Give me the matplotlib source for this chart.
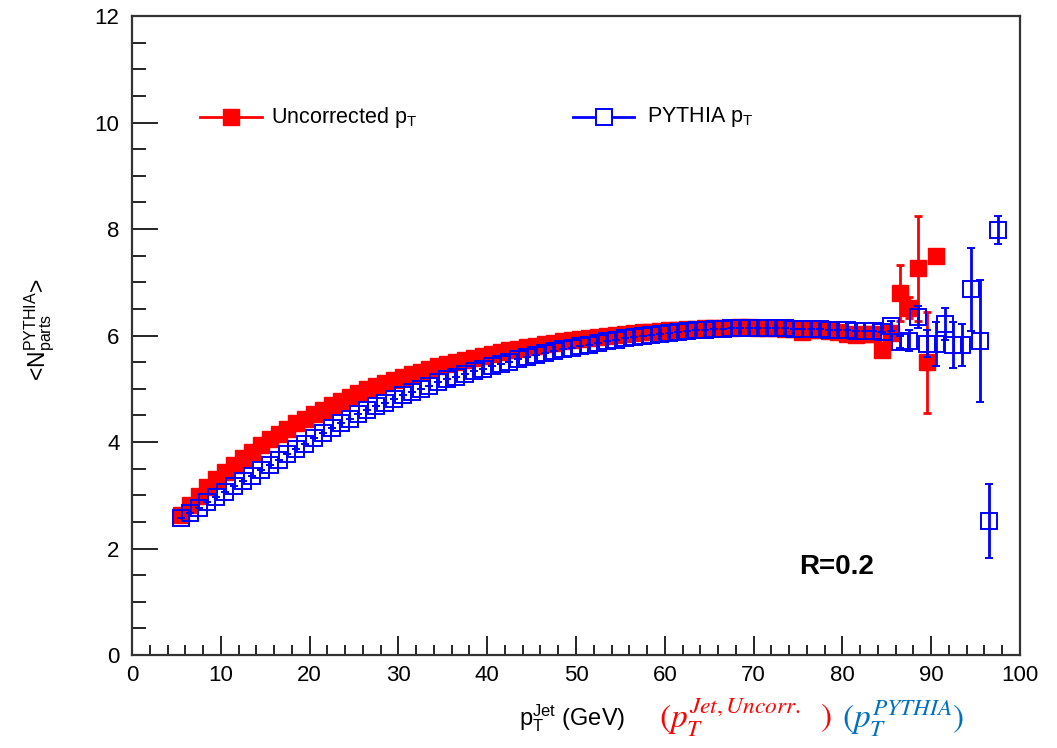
import numpy as np
import matplotlib
matplotlib.use("Agg")
import matplotlib.pyplot as plt
from matplotlib.ticker import MultipleLocator
from matplotlib.lines import Line2D

plt.rcParams['font.family'] = ['Liberation Sans', 'DejaVu Sans']
plt.rcParams['mathtext.fontset'] = 'custom'
plt.rcParams['mathtext.rm'] = 'Liberation Sans'
plt.rcParams['mathtext.it'] = 'Liberation Sans:italic'
plt.rcParams['mathtext.bf'] = 'Liberation Sans:bold'

# jet pT bin centres (1 GeV bins)
pt_uncorr = np.arange(5.5, 91.0, 1.0)
pt_pythia = np.arange(5.5, 98.0, 1.0)

# <N_parts> vs uncorrected jet pT
npart_uncorr = [
    2.63, 2.82, 2.99, 3.15, 3.30, 3.44, 3.57, 3.70, 3.82, 3.94,
    4.05, 4.15, 4.25, 4.35, 4.44, 4.53, 4.61, 4.69, 4.77, 4.85,
    4.92, 4.99, 5.05, 5.11, 5.17, 5.22, 5.27, 5.32, 5.37, 5.42,
    5.46, 5.50, 5.54, 5.58, 5.62, 5.65, 5.69, 5.72, 5.75, 5.78,
    5.81, 5.84, 5.86, 5.89, 5.91, 5.93, 5.95, 5.97, 5.99, 6.01,
    6.03, 6.04, 6.06, 6.07, 6.08, 6.10, 6.11, 6.12, 6.13, 6.14,
    6.14, 6.15, 6.15, 6.16, 6.16, 6.15, 6.15, 6.14, 6.13, 6.12,
    6.06, 6.10, 6.10, 6.09, 6.06, 6.02, 6.01, 6.02, 6.03, 5.72,
    6.05, 6.80, 6.52, 7.26, 5.50, 7.50,
]
err_uncorr = [0.0] * 79 + [0.08, 0.1, 0.52, 0.2, 0.98, 0.95, 0.0]

# <N_parts> vs PYTHIA jet pT
npart_pythia = [
    2.57, 2.67, 2.77, 2.87, 2.97, 3.07, 3.17, 3.27, 3.37, 3.47,
    3.57, 3.67, 3.77, 3.87, 3.97, 4.07, 4.17, 4.26, 4.35, 4.44,
    4.52, 4.60, 4.67, 4.74, 4.81, 4.88, 4.94, 5.00, 5.06, 5.12,
    5.18, 5.23, 5.28, 5.33, 5.38, 5.43, 5.47, 5.51, 5.55, 5.59,
    5.63, 5.67, 5.71, 5.74, 5.77, 5.80, 5.83, 5.86, 5.89, 5.92,
    5.95, 5.97, 5.99, 6.01, 6.03, 6.05, 6.07, 6.09, 6.10, 6.11,
    6.12, 6.13, 6.14, 6.14, 6.15, 6.15, 6.15, 6.14, 6.14, 6.13,
    6.13, 6.12, 6.12, 6.11, 6.10, 6.10, 6.09, 6.08, 6.08, 6.07,
    6.18, 5.88, 5.90, 6.35, 5.85, 5.84, 6.21, 5.82, 5.82, 6.87,
    5.90, 2.52, 7.98,
]
err_pythia = [0.0] * 80 + [0.1, 0.12, 0.2, 0.2, 0.25, 0.42, 0.3, 0.43,
                           0.4, 0.78, 1.15, 0.7, 0.26]

RED = '#ff0000'
BLUE = '#0000ff'

fig = plt.figure(figsize=(10.57, 7.48), dpi=100)
ax = fig.add_axes([0.1249, 0.1243, 0.8401, 0.8543])

ax.errorbar(pt_uncorr, npart_uncorr, yerr=err_uncorr, fmt='s', color=RED,
            ms=12, mec=RED, mfc=RED, ecolor=RED, elinewidth=2,
            capsize=3, capthick=2, zorder=3)
ax.errorbar(pt_pythia, npart_pythia, yerr=err_pythia, fmt='s', color=BLUE,
            ms=12, mec=BLUE, mfc='none', mew=1.4, ecolor=BLUE, elinewidth=2,
            capsize=3, capthick=2, zorder=4)

ax.set_xlim(0, 100)
ax.set_ylim(0, 12)
ax.xaxis.set_major_locator(MultipleLocator(10))
ax.xaxis.set_minor_locator(MultipleLocator(2))
ax.yaxis.set_major_locator(MultipleLocator(2))
ax.yaxis.set_minor_locator(MultipleLocator(0.5))
ax.tick_params(axis='y', which='major', direction='in', length=19, width=1.2,
               labelsize=16, pad=9)
ax.tick_params(axis='y', which='minor', direction='in', length=10, width=1.2)
ax.tick_params(axis='x', which='major', direction='in', length=14, width=1.2,
               labelsize=16, pad=7)
ax.tick_params(axis='x', which='minor', direction='in', length=7, width=1.2)
for s in ax.spines.values():
    s.set_linewidth(1.6)
    s.set_color('#333333')

# legend entries drawn in data space
leg_y = 10.1
ax.add_line(Line2D([7.7, 14.6], [leg_y, leg_y], color=RED, lw=2))
ax.plot([11.1], [leg_y], 's', color=RED, ms=11)
ax.text(15.6, leg_y, r'Uncorrected p$_{\mathregular{T}}$', fontsize=15.5,
        va='center', ha='left')
ax.add_line(Line2D([49.7, 56.5], [leg_y, leg_y], color=BLUE, lw=2))
ax.plot([53.1], [leg_y], 's', mec=BLUE, mfc='white', mew=1.4, ms=11)
ax.text(58.0, leg_y, r'PYTHIA p$_{\mathregular{T}}$', fontsize=15.5,
        va='center', ha='left')

ax.text(75.1, 1.65, 'R=0.2', fontsize=20, fontweight='bold', va='center',
        ha='left')

fig.text(0.038, 0.56, r'<N$^{\mathregular{PYTHIA}}_{\mathregular{parts}}$>',
         rotation=90, fontsize=16.5, ha='center', va='center')
fig.text(0.541, 0.040, r'p$^{\mathregular{Jet}}_{\mathregular{T}}$ (GeV)',
         fontsize=17, ha='center', va='center')

fig.text(0.623, 0.040, r'$(p_T^{Jet,Uncorr.}$', color=RED, fontsize=24,
         math_fontfamily='stix', ha='left', va='center')
fig.text(0.776, 0.040, r'$)$', color=RED, fontsize=24,
         math_fontfamily='stix', ha='left', va='center')
fig.text(0.797, 0.040, r'$(p_T^{PYTHIA})$', color='#0070c0', fontsize=24,
         math_fontfamily='stix', ha='left', va='center')

fig.savefig('out.png', dpi=100)
